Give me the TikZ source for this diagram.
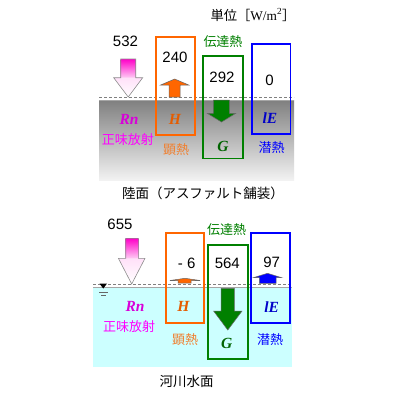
\documentclass[tikz,border=0pt]{standalone}
\usepackage{fontspec}
\setmainfont{Liberation Sans}
\newfontfamily\jp{Noto Sans CJK JP}
\newfontfamily\tms{Liberation Serif}
\definecolor{cOr}{RGB}{255,102,0}
\definecolor{cOrT}{RGB}{240,128,48}
\definecolor{cGr}{RGB}{0,128,0}
\definecolor{cGrD}{RGB}{0,100,0}
\definecolor{cBl}{RGB}{0,0,255}
\definecolor{cBlD}{RGB}{0,0,200}
\definecolor{cMg}{RGB}{255,0,255}
\definecolor{cMgA}{RGB}{255,0,200}
\definecolor{cCy}{RGB}{204,255,255}
\tikzset{
  num/.style={font=\fontsize{15}{15}\selectfont},
  jlab/.style={font=\jp\fontsize{13}{13}\selectfont},
  captxt/.style={font=\jp\fontsize{13.5}{13.5}\selectfont},
  sym/.style={font=\tms\bfseries\itshape\fontsize{15.5}{15.5}\selectfont},
  fbox/.style={line width=1.8pt},
  arr/.style={draw=black!60, line width=0.5pt},
  rnshaft/.style={top color=cMgA, bottom color=cMgA!20},
  rnhead/.style={top color=cMgA!12, bottom color=white},
  rnline/.style={draw=black!45, line width=0.6pt},
  surf/.style={draw=black!50, dash pattern=on 3pt off 2pt, line width=0.8pt},
  surfs/.style={draw=black!35, line width=0.8pt}
}
\begin{document}
\begin{tikzpicture}[x=1pt,y=-1pt]
\useasboundingbox (0,0) rectangle (400,400);
\fill[white] (0,0) rectangle (400,400);

% ---------------- top panel ----------------
\node[font=\jp\fontsize{13.3}{13.3}\selectfont] (unit) at (253,15) {単位［{\tms W/m\textsuperscript{2}}］};

\shade[top color=black!50, bottom color=black!5] (99,100) rectangle (294,180);
\draw[surfs] (99,100) -- (294,100);
\draw[surf] (99,97) -- (294,97);

% Rn arrow
\shade[rnshaft] (120.7,59) rectangle (135.7,77.9);
\shade[rnhead] (113.7,77.7) -- (142.7,77.7) -- (128.2,97) -- cycle;
\draw[rnline]
  (120.7,59) -- (135.7,59) -- (135.7,77.7) -- (142.7,77.7) -- (128.2,97) -- (113.7,77.7) -- (120.7,77.7) -- cycle;
\node[num] (v532) at (125.5,41) {532};

% H box and arrow
\draw[cOr, fbox] (156,37) rectangle (195,135);
\node[num] (v240) at (175,57.5) {240};
\filldraw[fill=cOr, arr] (169,97) -- (169,85) -- (160.7,85) -- (174.7,79) -- (188.7,85) -- (180,85) -- (180,97) -- cycle;
\node[sym, text=cOr!90!black] (Htop) at (175,119.5) {H};

% G box and arrow
\draw[cGr, fbox] (202.7,56) rectangle (242.7,158.5);
\node[jlab, text=cGr] (dtop) at (223,41.5) {伝達熱};
\node[num] (v292) at (222,77) {292};
\filldraw[fill=cGr, arr] (213.3,100) -- (229.3,100) -- (229.3,113.3) -- (235.7,113.3) -- (221.5,122) -- (207.3,113.3) -- (213.3,113.3) -- cycle;
\node[sym, text=cGrD] (Gtop) at (223,146.5) {G};

% lE box
\draw[cBl, fbox] (252.3,44) rectangle (290.5,134);
\node[num] (v0) at (269.5,80) {0};
\node[sym, text=cBlD] (Etop) at (270,118.5) {lE};

% labels
\node[sym, text=cMg!85!black] (Rtop) at (129,119.5) {Rn};
\node[jlab, text=cMg] (rtop) at (128,140) {正味放射};
\node[jlab, text=cOrT] (htop) at (176,150) {顕熱};
\node[jlab, text=cBl] (ltop) at (271.5,148) {潜熱};
\node[captxt] (captop) at (203,193) {陸面（アスファルト舗装）};

% ---------------- bottom panel ----------------
\fill[cCy] (93,288) rectangle (292,367);
\draw[surfs] (93,287.5) -- (292,287.5);
\draw[surf] (93,284.5) -- (292,284.5);
% water level mark
\fill[black] (99.5,283.5) -- (107,283.5) -- (103.25,288.5) -- cycle;
\draw[black!60, line width=0.6pt] (99,292.3) -- (107.5,292.3);
\draw[black!60, line width=0.6pt] (101,295.7) -- (105.5,295.7);

% Rn arrow
\shade[rnshaft] (125.7,238.3) rectangle (138.3,258.5);
\shade[rnhead] (118.4,258.3) -- (145,258.3) -- (131.7,284) -- cycle;
\draw[rnline]
  (125.7,238.3) -- (138.3,238.3) -- (138.3,258.3) -- (145,258.3) -- (131.7,284) -- (118.4,258.3) -- (125.7,258.3) -- cycle;
\node[num] (v655) at (120,224) {655};

% H box and flat arrow
\draw[cOr, fbox] (166,232.7) rectangle (204.3,323.3);
\node[num] (vm6) at (186.7,263.3) {- 6};
\filldraw[fill=cOr, arr] (178,283) -- (178,280.5) -- (170,280.5) -- (185,278.3) -- (200,280.5) -- (191,280.5) -- (191,283) -- cycle;
\node[sym, text=cOr!90!black] (Hbot) at (183.3,306) {H};

% G box and arrow
\draw[cGr, fbox] (207.7,245) rectangle (247.7,359);
\node[jlab, text=cGr] (dbot) at (226.7,229.3) {伝達熱};
\node[num] (v564) at (227.3,263.3) {564};
\filldraw[fill=cGr, arr] (221,288.3) -- (234.3,288.3) -- (234.3,311) -- (242,311) -- (227.8,330) -- (213.6,311) -- (221,311) -- cycle;
\node[sym, text=cGrD] (Gbot) at (226.7,343.3) {G};

% lE box and arrow
\draw[cBl, fbox] (251,233.3) rectangle (290,323.3);
\node[num] (v97) at (271.7,262.7) {97};
\filldraw[fill=cBl, arr] (259.3,283.3) -- (259.3,277.7) -- (253.3,277.7) -- (267.5,273.3) -- (281.7,277.7) -- (276,277.7) -- (276,283.3) -- cycle;
\node[sym, text=cBlD] (Ebot) at (271.7,306.7) {lE};

% labels
\node[sym, text=cMg!85!black] (Rbot) at (135,306.7) {Rn};
\node[jlab, text=cMg] (rbot) at (129,326.7) {正味放射};
\node[jlab, text=cOrT] (hbot) at (185,340) {顕熱};
\node[jlab, text=cBl] (lbot) at (270,340) {潜熱};
\node[captxt] (capbot) at (186.7,381.7) {河川水面};
\end{tikzpicture}
\end{document}
